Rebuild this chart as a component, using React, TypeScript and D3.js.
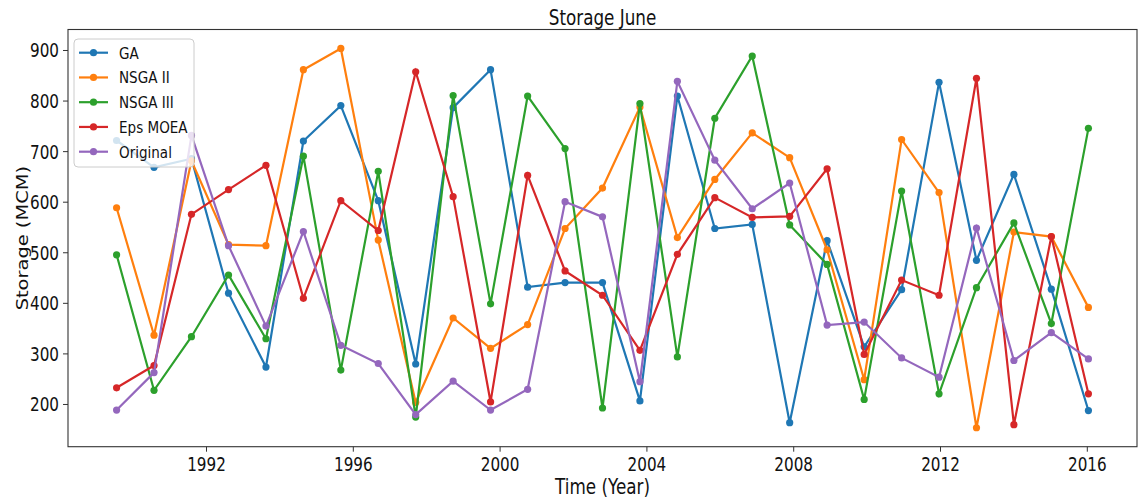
import React from "react";
import * as d3 from "d3";

const years = [
  1989.55, 1990.57, 1991.59, 1992.6, 1993.62, 1994.64, 1995.66, 1996.68, 1997.7,
  1998.72, 1999.74, 2000.75, 2001.77, 2002.79, 2003.81, 2004.83, 2005.85, 2006.87,
  2007.89, 2008.91, 2009.92, 2010.94, 2011.96, 2012.98, 2014.0, 2015.02, 2016.03,
];

const gaValues = [722, 669, 686, 420, 274, 721, 791, 603, 280, 787, 862, 432, 441, 441, 207, 810, 548, 556, 164, 524, 314, 427, 837, 485, 655, 428, 188];
const nsga2Values = [589, 337, 682, 516, 514, 862, 904, 525, 204, 371, 311, 358, 548, 628, 788, 530, 645, 737, 688, 506, 249, 724, 619, 154, 541, 532, 392];
const nsga3Values = [496, 228, 334, 456, 330, 691, 268, 661, 175, 811, 399, 810, 706, 193, 795, 294, 766, 889, 555, 477, 210, 622, 221, 431, 559, 360, 746];
const epsValues = [233, 277, 576, 625, 673, 410, 603, 544, 858, 611, 205, 653, 464, 416, 307, 497, 609, 570, 572, 666, 299, 446, 416, 845, 160, 532, 221];
const originalValues = [189, 263, 732, 514, 355, 542, 317, 281, 180, 246, 189, 230, 601, 571, 245, 839, 683, 587, 638, 357, 363, 292, 254, 549, 287, 342, 290];

const seriesNames = ["GA", "NSGA II", "NSGA III", "Eps MOEA", "Original"];
const seriesColors = ["#1f77b4", "#ff7f0e", "#2ca02c", "#d62728", "#9467bd"];
const seriesData = [gaValues, nsga2Values, nsga3Values, epsValues, originalValues];

const yTicks = [200, 300, 400, 500, 600, 700, 800, 900];
const xTicks = [1992, 1996, 2000, 2004, 2008, 2012, 2016];

const titleText = "Storage June";
const xLabelText = "Time (Year)";
const yLabelText = "Storage (MCM)";

const W = 1141;
const H = 500;
const plot = { left: 68, right: 1137, top: 29.5, bottom: 446.7 };
const SX = 0.78;
const FONT = "DejaVu Sans, sans-serif";

export default function App() {
  const xMin = d3.min(years) as number;
  const xMax = d3.max(years) as number;
  const xPad = (xMax - xMin) * 0.05;
  const x = d3.scaleLinear().domain([xMin - xPad, xMax + xPad]).range([plot.left, plot.right]);

  const all = seriesData.flat();
  const yMin = d3.min(all) as number;
  const yMax = d3.max(all) as number;
  const yPad = (yMax - yMin) * 0.05;
  const y = d3.scaleLinear().domain([yMin - yPad, yMax + yPad]).range([plot.bottom, plot.top]);

  const line = d3
    .line<number>()
    .x((_, i) => x(years[i]))
    .y((d) => y(d));

  const cx = (plot.left + plot.right) / 2;
  const cy = (plot.top + plot.bottom) / 2;

  return (
    <svg
      width={W}
      height={H}
      style={{ position: "absolute", left: 0, top: 0, background: "#fff" }}
      fontFamily={FONT}
    >
      <rect x={0} y={0} width={W} height={H} fill="#fff" />
      {seriesData.map((vals, si) => (
        <g key={seriesNames[si]}>
          <path d={line(vals) || ""} fill="none" stroke={seriesColors[si]} strokeWidth={2.2} />
          {vals.map((v, i) => (
            <circle key={i} cx={x(years[i])} cy={y(v)} r={3.6} fill={seriesColors[si]} />
          ))}
        </g>
      ))}

      {/* spines */}
      <rect
        x={plot.left}
        y={plot.top}
        width={plot.right - plot.left}
        height={plot.bottom - plot.top}
        fill="none"
        stroke="#333"
        strokeWidth={1.1}
      />

      {/* y ticks */}
      {yTicks.map((t) => (
        <g key={t}>
          <line x1={plot.left - 5} x2={plot.left} y1={y(t)} y2={y(t)} stroke="#333" strokeWidth={1} />
          <text
            transform={`translate(${plot.left - 9},${y(t) + 7}) scale(${SX},1)`}
            textAnchor="end"
            fontSize={19.5}
            fill="#111"
          >
            {t}
          </text>
        </g>
      ))}

      {/* x ticks */}
      {xTicks.map((t) => (
        <g key={t}>
          <line x1={x(t)} x2={x(t)} y1={plot.bottom} y2={plot.bottom + 5} stroke="#333" strokeWidth={1} />
          <text
            transform={`translate(${x(t)},${plot.bottom + 24.5}) scale(${SX},1)`}
            textAnchor="middle"
            fontSize={19.5}
            fill="#111"
          >
            {t}
          </text>
        </g>
      ))}

      {/* title */}
      <text transform={`translate(${cx},25) scale(${SX},1)`} textAnchor="middle" fontSize={21.5} fill="#111">
        {titleText}
      </text>
      {/* x label */}
      <text transform={`translate(${cx},494) scale(${SX},1)`} textAnchor="middle" fontSize={21.5} fill="#111">
        {xLabelText}
      </text>
      {/* y label */}
      <text
        transform={`translate(28,${cy}) rotate(-90) scale(0.94,${SX})`}
        textAnchor="middle"
        fontSize={20.7}
        fill="#111"
      >
        {yLabelText}
      </text>

      {/* legend */}
      <g>
        <rect x={74} y={39} width={120} height={128} rx={4} fill="#fff" fillOpacity={0.8} stroke="#ccc" strokeWidth={1} />
        {seriesNames.map((name, i) => {
          const ly = 52.7 + i * 24.75;
          return (
            <g key={name}>
              <line x1={79} x2={108} y1={ly} y2={ly} stroke={seriesColors[i]} strokeWidth={2.2} />
              <circle cx={93.5} cy={ly} r={3.6} fill={seriesColors[i]} />
              <text transform={`translate(119,${ly + 6}) scale(0.82,1)`} fontSize={16.5} fill="#111">
                {name}
              </text>
            </g>
          );
        })}
      </g>
    </svg>
  );
}
